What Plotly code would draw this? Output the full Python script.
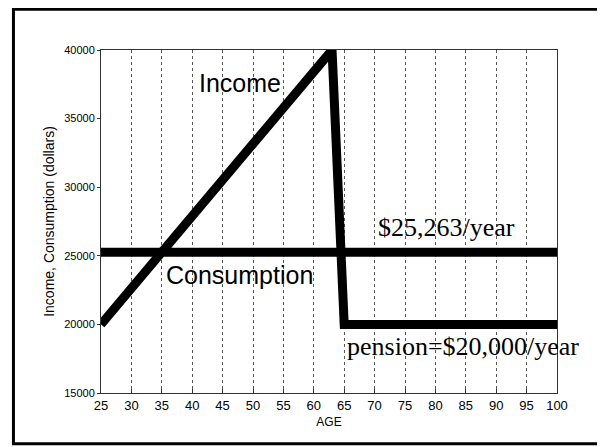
import plotly.graph_objects as go

# income path over the life cycle
income_age = [25, 63, 65, 100]
income = [20000, 40000, 20000, 20000]

# flat consumption
consumption_age = [25, 100]
consumption = [25263, 25263]

x_ticks = [25, 30, 35, 40, 45, 50, 55, 60, 65, 70, 75, 80, 85, 90, 95, 100]
y_ticks = [15000, 20000, 25000, 30000, 35000, 40000]
y_tick_text = ["15000", "20000", "25000", "30000", "35000", "40000"]

labels = [
    dict(text="Income", x=47.9, y=37600, font="Liberation Sans", size=25),
    dict(text="Consumption", x=47.7, y=23600, font="Liberation Sans", size=25),
    dict(text="$25,263/year", x=81.9, y=27050, font="Liberation Serif", size=26),
    dict(text="pension=$20,000/year", x=84.5, y=18420, font="Liberation Serif", size=26),
]

fig = go.Figure()
fig.add_trace(go.Scatter(x=consumption_age, y=consumption, mode="lines",
                         line=dict(color="black", width=9), cliponaxis=False))
fig.add_trace(go.Scatter(x=income_age, y=income, mode="lines",
                         line=dict(color="black", width=9), cliponaxis=False))

for lb in labels:
    fig.add_annotation(x=lb["x"], y=lb["y"], text=lb["text"], showarrow=False,
                       font=dict(family=lb["font"], size=lb["size"], color="black"))

# outer frame around the whole figure
fig.add_shape(type="rect", xref="paper", yref="paper",
              x0=-0.192, x1=1.093, y0=-0.148, y1=1.119,
              line=dict(color="black", width=3))

fig.update_xaxes(range=[25, 100], tickvals=x_ticks, showgrid=True,
                 gridcolor="#555", griddash="dot", gridwidth=1,
                 showline=True, linecolor="#333", linewidth=1, mirror=True,
                 ticks="inside", ticklen=4, tickcolor="#333", zeroline=False,
                 tickfont=dict(family="Liberation Sans", size=13, color="black"),
                 title=dict(text="AGE", standoff=6,
                            font=dict(family="Liberation Sans", size=12, color="black")))
fig.update_yaxes(range=[15000, 40000], tickvals=y_ticks, ticktext=y_tick_text,
                 showgrid=False,
                 showline=True, linecolor="#333", linewidth=1, mirror=True,
                 ticks="outside", ticklen=3, tickcolor="#333", zeroline=False,
                 tickfont=dict(family="Liberation Sans", size=11, color="black"),
                 title=dict(text="Income, Consumption (dollars)", standoff=6,
                            font=dict(family="Liberation Sans", size=14, color="black")))

# page body has an 8px margin, so the figure is shrunk to fit the window
fig.update_layout(width=597, height=439, showlegend=False,
                  plot_bgcolor="white", paper_bgcolor="white",
                  margin=dict(l=93, r=48, t=42, b=54, autoexpand=False))

fig.write_html("out.html")
